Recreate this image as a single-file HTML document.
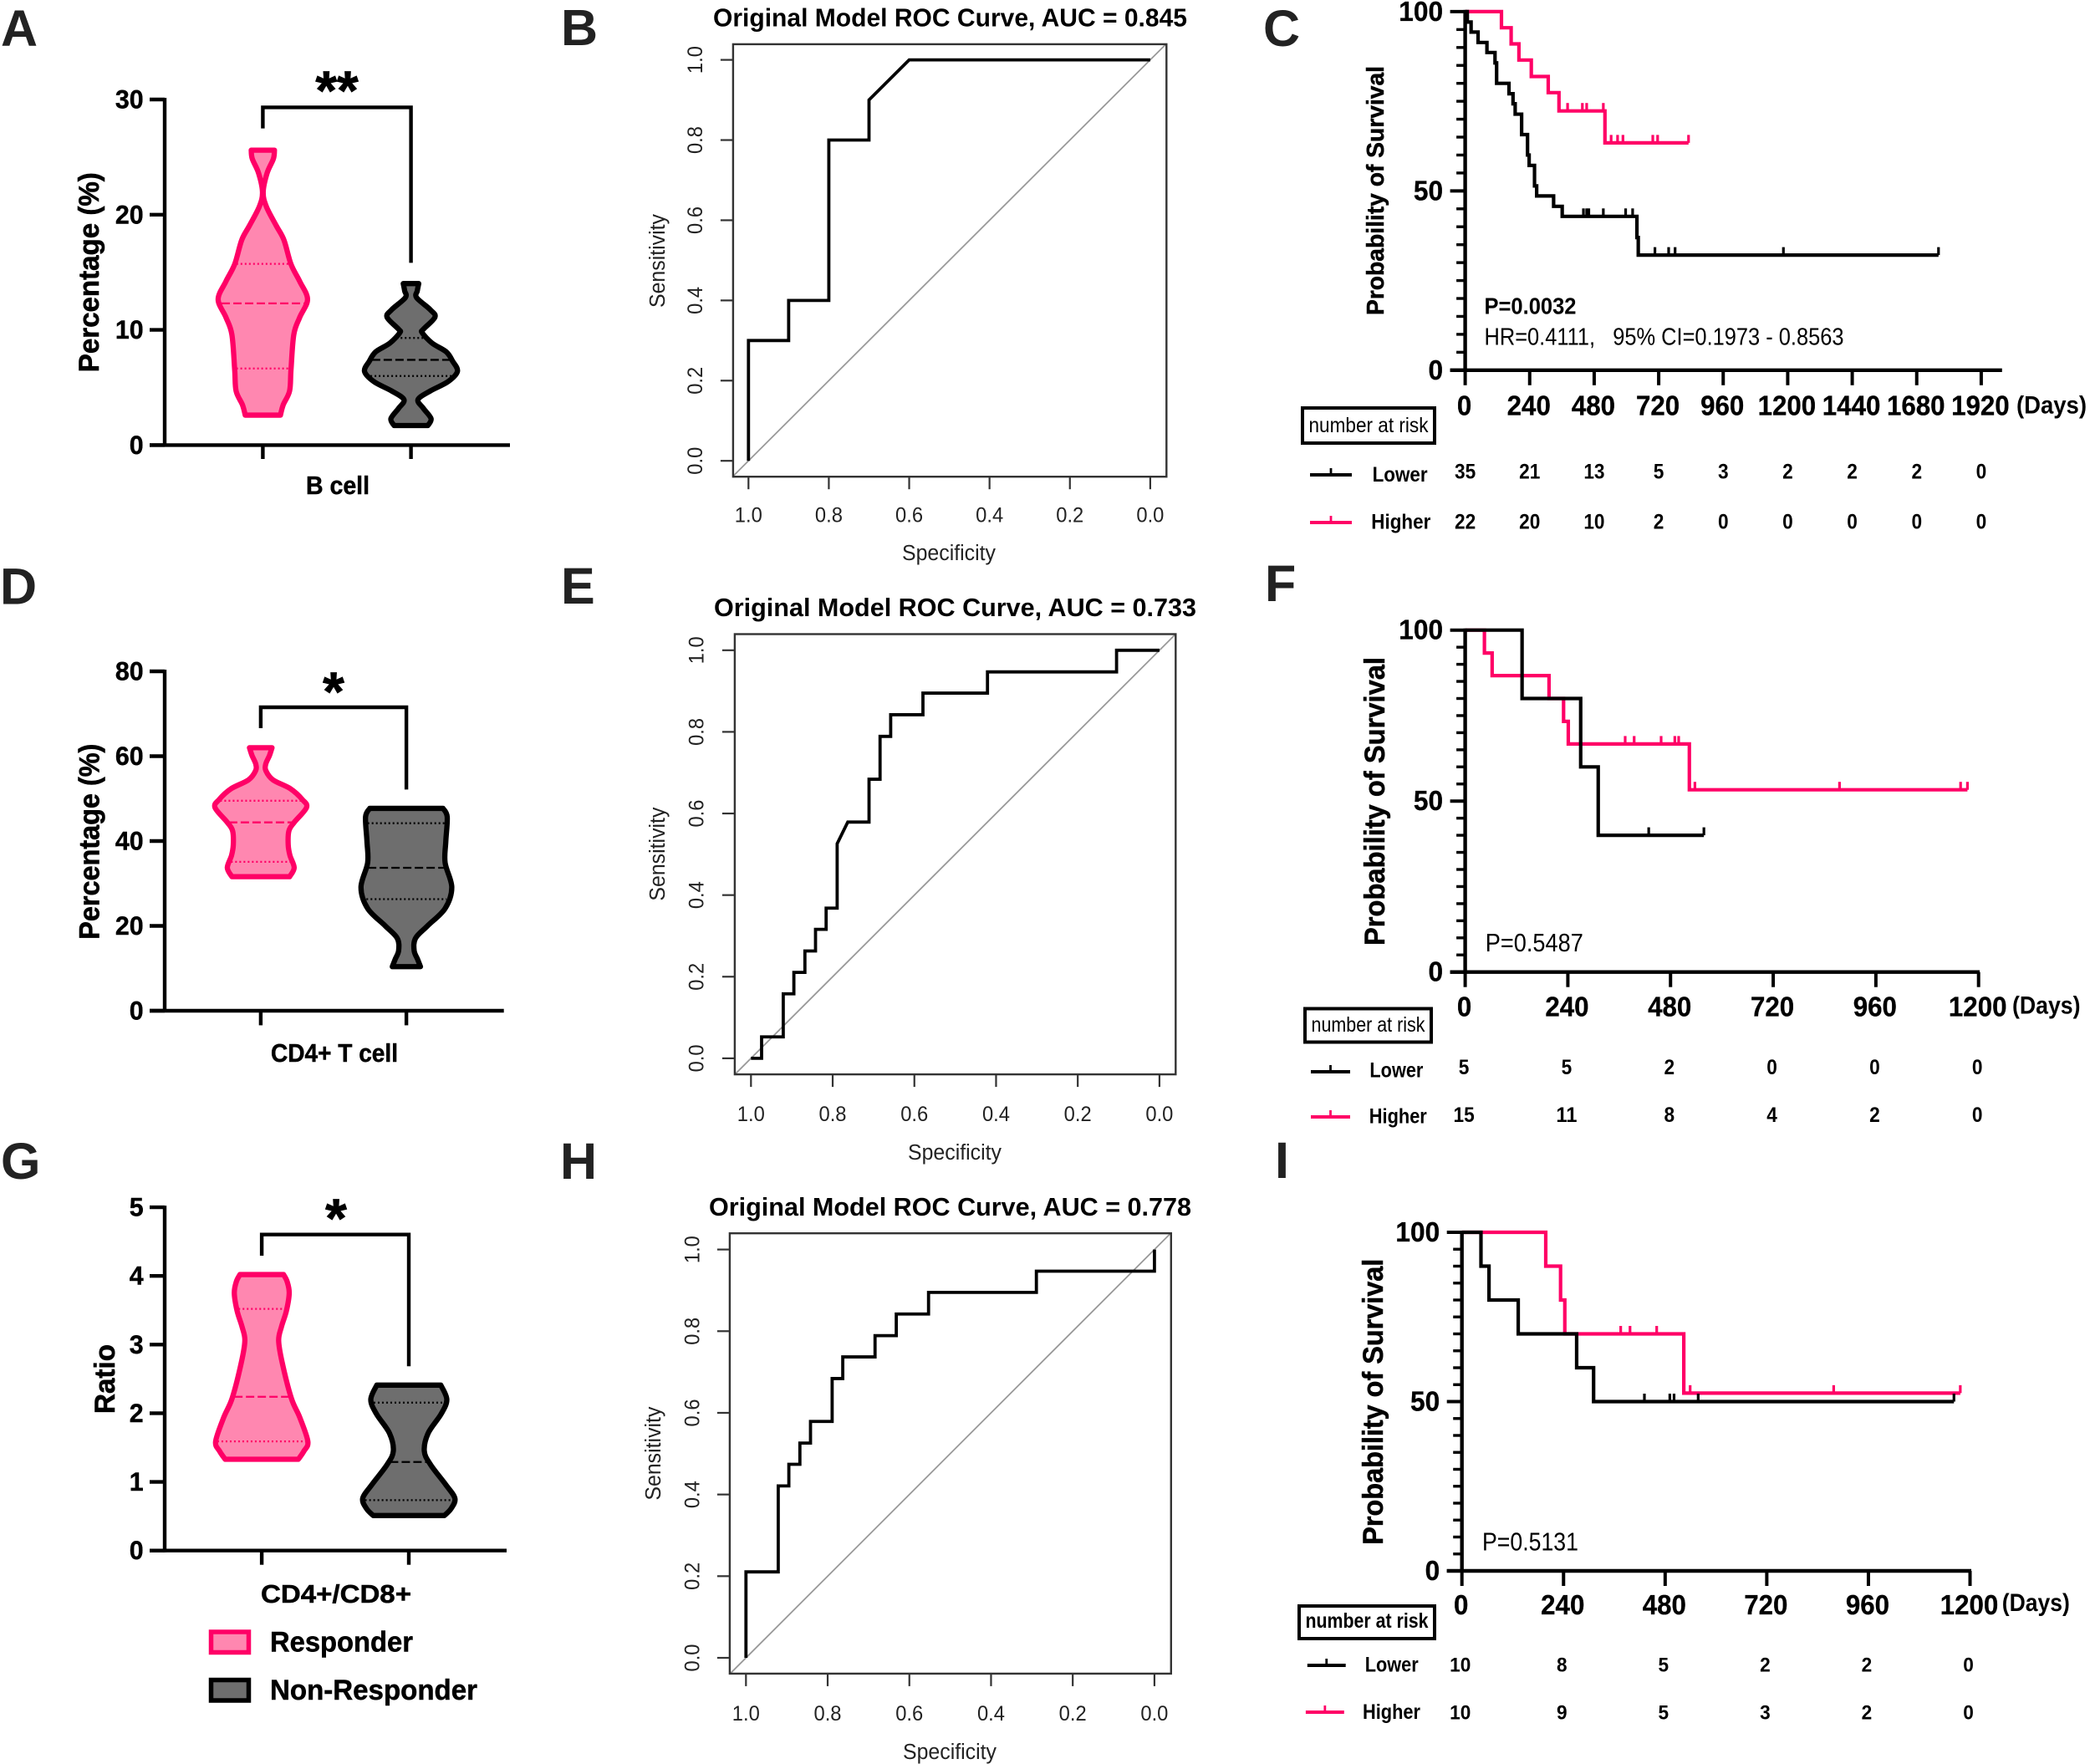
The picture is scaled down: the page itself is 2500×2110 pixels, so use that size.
<!DOCTYPE html>
<html lang="en">
<head>
<meta charset="utf-8">
<title>Violin, ROC and survival panels</title>
<style>
html,body{margin:0;padding:0;background:#fff}
svg{display:block}
text{font-family:"Liberation Sans",Arial,sans-serif}
</style>
</head>
<body>
<svg id="figure" xmlns="http://www.w3.org/2000/svg" width="2500" height="2110" viewBox="0 0 2500 2110">
<rect x="0" y="0" width="2500" height="2110" fill="#fff"/>
<g font-size="61" font-weight="bold" fill="#222">
<text x="1" y="55">A</text>
<text x="671" y="54">B</text>
<text x="1511" y="55">C</text>
<text x="0" y="722.6">D</text>
<text x="671" y="722">E</text>
<text x="1513" y="719">F</text>
<text x="1" y="1410">G</text>
<text x="670" y="1410">H</text>
<text x="1525" y="1409">I</text>
</g>
<g id="panel-a"></g>
<g id="panel-b"></g>
<g id="panel-c"></g>
<g id="panel-d"></g>
<g id="panel-e"></g>
<g id="panel-f"></g>
<g id="panel-g"></g>
<g id="panel-h"></g>
<g id="panel-i"></g>
<g>
<rect x="252.5" y="1952" width="45" height="24.5" fill="#ff87b0" stroke="#ff0066" stroke-width="5.5"/>
<text x="323" y="1975.5" font-size="34" font-weight="bold" fill="#000" stroke="#000" stroke-width="0.5" textLength="171" lengthAdjust="spacingAndGlyphs">Responder</text>
<rect x="252.5" y="2009.5" width="45" height="24.5" fill="#6e6e6e" stroke="#000" stroke-width="5.5"/>
<text x="323" y="2033" font-size="34" font-weight="bold" fill="#000" stroke="#000" stroke-width="0.5" textLength="248" lengthAdjust="spacingAndGlyphs">Non-Responder</text>
</g>
</svg>
<script>
/* ---------- Panel A data ---------- */
const aYTicks = [0, 10, 20, 30];
const aResponderValues = [25.6, 24.85, 23.6, 21.95, 20.7, 19.05, 17.8, 15.7, 14.2, 12.65, 11.1, 9.6, 6.55, 4.7, 3.5, 2.6];
const aResponderDensity = [33, 30, 12, 1, 10, 38, 60, 80, 105, 127, 105, 88, 80, 76, 58, 50];
const aResponderQuartiles = [6.65, 12.3, 15.73];
const aNonResponderValues = [14.02, 13.4, 12.8, 11.75, 11.1, 10.05, 9.75, 8.85, 8.1, 7.3, 6.4, 5.5, 4.7, 3.95, 3.2, 2.3, 1.7];
const aNonResponderDensity = [22, 18, 16, 55, 68, 35, 32, 60, 100, 118, 132, 105, 55, 20, 35, 57, 48];
const aNonResponderQuartiles = [6.0, 7.4, 9.3];

/* ---------- Panel D data ---------- */
const dYTicks = [0, 20, 40, 60, 80];
const dResponderValues = [62.0, 60.2, 58.1, 56.5, 54.4, 52.3, 49.8, 47.9, 44.4, 42.4, 39.1, 36.6, 33.7, 31.6];
const dResponderDensity = [32, 25, 14, 15, 35, 85, 118, 130, 95, 80, 78, 83, 95, 82];
const dResponderQuartiles = [35.1, 44.4, 49.5];
const dNonResponderValues = [47.7, 45.7, 39.9, 34.9, 29.1, 24.1, 20.0, 17.1, 14.2, 12.1, 10.4];
const dNonResponderDensity = [104, 116, 112, 110, 129, 110, 60, 26, 22, 32, 40];
const dNonResponderQuartiles = [26.3, 33.7, 44.2];

/* ---------- Panel G data ---------- */
const gYTicks = [0, 1, 2, 3, 4, 5];
const gResponderValues = [4.02, 3.92, 3.75, 3.49, 3.26, 3.06, 2.74, 2.22, 1.94, 1.59, 1.45, 1.33];
const gResponderDensity = [62, 72, 78, 70, 56, 48, 58, 84, 108, 131, 120, 104];
const gResponderQuartiles = [1.59, 2.24, 3.52];
const gNonResponderValues = [2.41, 2.2, 1.99, 1.71, 1.45, 1.25, 0.96, 0.76, 0.61, 0.51];
const gNonResponderDensity = [91, 108, 92, 55, 44, 62, 105, 131, 120, 101];
const gNonResponderQuartiles = [0.735, 1.29, 2.155];

/* ---------- ROC data ---------- */
const rocTicks = [0, 0.2, 0.4, 0.6, 0.8, 1];
const rocTickLabels = ['0.0', '0.2', '0.4', '0.6', '0.8', '1.0'];
const bSpecificity = [1, 1, 0.9, 0.9, 0.8, 0.8, 0.7, 0.7, 0.6, 0];
const bSensitivity = [0, 0.3, 0.3, 0.4, 0.4, 0.8, 0.8, 0.9, 1, 1];
const eSpecificity = [1, 0.974, 0.974, 0.921, 0.921, 0.895, 0.895, 0.868, 0.868, 0.842, 0.842, 0.816, 0.816, 0.789, 0.789, 0.763, 0.711, 0.711, 0.684, 0.684, 0.658, 0.658, 0.579, 0.579, 0.421, 0.421, 0.105, 0.105, 0];
const eSensitivity = [0, 0, 0.0526, 0.0526, 0.158, 0.158, 0.2105, 0.2105, 0.263, 0.263, 0.316, 0.316, 0.368, 0.368, 0.526, 0.579, 0.579, 0.684, 0.684, 0.789, 0.789, 0.842, 0.842, 0.895, 0.895, 0.947, 0.947, 1, 1];
const hSpecificity = [1, 1, 0.921, 0.921, 0.895, 0.895, 0.868, 0.868, 0.842, 0.842, 0.789, 0.789, 0.763, 0.763, 0.684, 0.684, 0.632, 0.632, 0.553, 0.553, 0.289, 0.289, 0, 0];
const hSensitivity = [0, 0.2105, 0.2105, 0.421, 0.421, 0.474, 0.474, 0.526, 0.526, 0.579, 0.579, 0.684, 0.684, 0.737, 0.737, 0.789, 0.789, 0.842, 0.842, 0.895, 0.895, 0.947, 0.947, 1];

/* ---------- Survival shared ticks ---------- */
const kmYMajorTicks = [0, 50, 100];
const kmYMinorTicks = [5, 10, 15, 20, 25, 30, 35, 40, 45, 55, 60, 65, 70, 75, 80, 85, 90, 95];

/* ---------- Panel C data ---------- */
const cXTicks = [0, 240, 480, 720, 960, 1200, 1440, 1680, 1920];
const cLowerDays = [0, 8, 22, 48, 81, 111, 117, 163, 178, 186, 210, 232, 238, 258, 266, 329, 361, 639, 644];
const cLowerSurvival = [100, 97.1, 94.3, 91.4, 88.6, 85.7, 80, 77.1, 74.3, 71.4, 65.7, 60, 57.1, 51.4, 48.6, 45.7, 42.9, 37, 32.1];
const cLowerCensors = [440, 452, 460, 514, 597, 623, 706, 757, 781, 1184, 1761];
const cHigherDays = [0, 135, 171, 200, 246, 309, 349, 520];
const cHigherSurvival = [100, 95.5, 91, 86.5, 81.9, 77.4, 72.3, 63.4];
const cHigherCensors = [381, 436, 452, 514, 543, 567, 587, 698, 716, 831];
const cLowerRisk = [35, 21, 13, 5, 3, 2, 2, 2, 0];
const cHigherRisk = [22, 20, 10, 2, 0, 0, 0, 0, 0];

/* ---------- Panel F data ---------- */
const fXTicks = [0, 240, 480, 720, 960, 1200];
const fLowerDays = [0, 133, 270, 311];
const fLowerSurvival = [100, 80, 60, 40];
const fLowerCensors = [429, 558];
const fHigherDays = [0, 45, 63, 196, 230, 241, 524];
const fHigherSurvival = [100, 93.3, 86.7, 80, 73.3, 66.7, 53.3];
const fHigherCensors = [374, 395, 458, 490, 499, 537, 875, 1158, 1174];
const fLowerRisk = [5, 5, 2, 0, 0, 0];
const fHigherRisk = [15, 11, 8, 4, 2, 0];

/* ---------- Panel I data ---------- */
const iXTicks = [0, 240, 480, 720, 960, 1200];
const iLowerDays = [0, 45, 64, 133, 271, 311];
const iLowerSurvival = [100, 90, 80, 70, 60, 50];
const iLowerCensors = [431, 491, 501, 558, 1162];
const iHigherDays = [0, 198, 233, 243, 524];
const iHigherSurvival = [100, 90, 80, 70, 52.5];
const iHigherCensors = [375, 397, 460, 539, 878, 1177];
const iLowerRisk = [10, 8, 5, 2, 2, 0];
const iHigherRisk = [10, 9, 5, 3, 2, 0];

/* ---------- Helpers ---------- */
const SVG_NS = 'http://www.w3.org/2000/svg';
const PINK = '#ff0066';
const PINK_FILL = '#ff87b0';
const GRAY_FILL = '#6e6e6e';
const linear = (d0, d1, r0, r1) => v => r0 + (v - d0) * (r1 - r0) / (d1 - d0);

function mk(parent, tag, name, attrs) {
  const el = document.createElementNS(SVG_NS, tag);
  
  
  for (const k in attrs) el.setAttribute(k, attrs[k]);
  parent.appendChild(el);
  return el;
}
function line(parent, name, x1, y1, x2, y2, color, width) {
  return mk(parent, 'line', name, { x1, y1, x2, y2, stroke: color, 'stroke-width': width });
}
function label(parent, name, str, x, y, size, o) {
  o = o || {};
  const a = { x, y, 'font-size': size, 'font-weight': o.weight || 'normal', fill: o.fill || '#000', 'text-anchor': o.anchor || 'start' };
  if (o.len) { a.textLength = o.len; a.lengthAdjust = 'spacingAndGlyphs'; }
  if (o.rotate) a.transform = 'rotate(-90 ' + x + ' ' + y + ')';
  if (o.heavy) { a.stroke = o.fill || '#000'; a['stroke-width'] = o.heavy; }
  const el = mk(parent, 'text', name, a);
  el.textContent = str;
  return el;
}
function smooth(pts) {
  let d = '';
  for (let i = 0; i < pts.length - 1; i++) {
    const p0 = pts[i - 1] || pts[i], p1 = pts[i], p2 = pts[i + 1], p3 = pts[i + 2] || p2;
    const c1x = p1[0] + (p2[0] - p0[0]) / 6, c1y = p1[1] + (p2[1] - p0[1]) / 6;
    const c2x = p2[0] - (p3[0] - p1[0]) / 6, c2y = p2[1] - (p3[1] - p1[1]) / 6;
    d += ' C' + c1x.toFixed(2) + ' ' + c1y.toFixed(2) + ' ' + c2x.toFixed(2) + ' ' + c2y.toFixed(2) + ' ' + p2[0].toFixed(2) + ' ' + p2[1].toFixed(2);
  }
  return d;
}

/* ---------- Violin ---------- */
const densityToPx = d => d * 0.421;
function densityAt(values, density, v) {
  for (let i = 0; i < values.length - 1; i++) {
    if (v <= values[i] && v >= values[i + 1]) {
      const t = (values[i] - v) / (values[i] - values[i + 1]);
      return density[i] + t * (density[i + 1] - density[i]);
    }
  }
  return 0;
}
function drawViolin(g, yS, cx, values, density, quartiles, stroke, fill, name) {
  const right = values.map((v, i) => [cx + densityToPx(density[i]), yS(v)]);
  const left = values.map((v, i) => [cx - densityToPx(density[i]), yS(v)]).reverse();
  const d = 'M' + right[0][0] + ' ' + right[0][1] + smooth(right) + ' L' + left[0][0] + ' ' + left[0][1] + smooth(left) + ' Z';
  mk(g, 'path', name + '-violin', { d, fill, stroke, 'stroke-width': 6.3, 'stroke-linejoin': 'round' });
  quartiles.forEach((q, i) => {
    const hw = densityToPx(densityAt(values, density, q));
    const l = line(g, name + (i === 1 ? '-median-line' : '-quartile-line'), cx - hw + 2, yS(q), cx + hw - 2, yS(q), stroke, 2.3);
    l.setAttribute('stroke-dasharray', i === 1 ? '10 4' : '2 3');
  });
}
function drawViolinPanel(g, L, ticks, R, N) {
  const yS = linear(ticks[0], ticks[ticks.length - 1], L.y0, L.yTop);
  drawViolin(g, yS, L.cxR, R.values, R.density, R.quartiles, PINK, PINK_FILL, 'responder');
  drawViolin(g, yS, L.cxN, N.values, N.density, N.quartiles, '#000', GRAY_FILL, 'non-responder');
  line(g, 'y-axis', L.axisX, L.yTop - 2, L.axisX, L.y0 + 2, '#000', 4.4);
  line(g, 'x-axis', L.tickLeft, L.y0, L.xEnd, L.y0, '#000', 4.4);
  ticks.forEach(t => {
    line(g, 'y-tick', L.tickLeft, yS(t), L.axisX, yS(t), '#000', 4.4);
    label(g, 'y-tick-label', String(t), 171.7, yS(t) + 10.5, 31.5, { weight: 'bold', anchor: 'end', len: String(t).length * 16.9, heavy: 0.4 });
  });
  [L.cxR, L.cxN].forEach(x => line(g, 'x-tick', x, L.y0, x, L.tickBottom, '#000', 4.4));
  mk(g, 'path', 'significance-bracket', { d: 'M' + L.cxR + ' ' + L.brLeft + ' V' + L.brTop + ' H' + L.cxN + ' V' + L.brRight, fill: 'none', stroke: '#000', 'stroke-width': 4.4 });
  label(g, 'significance-stars', L.stars, L.starX, L.starY, 66, { weight: 'bold', anchor: 'middle', heavy: 0.8 });
  label(g, 'x-axis-title', L.xTitle, L.xTitleX, L.xTitleY, 30.5, { weight: 'bold', anchor: 'middle', len: L.xTitleLen, heavy: 0.5 });
  label(g, 'y-axis-title', L.yTitle, L.yTitleX, L.yTitleY, 34, { weight: 'bold', anchor: 'middle', rotate: true, len: L.yTitleLen, heavy: 0.6 });
}

/* ---------- ROC ---------- */
function drawRoc(g, L, spec, sens, title, clipId) {
  const xS = linear(1, 0, L.x10, L.x00);
  const yS = linear(0, 1, L.y00, L.y10);
  const clip = mk(g, 'clipPath', 'roc-clip', { id: clipId });
  mk(clip, 'rect', 'roc-clip-rect', { x: L.left, y: L.top, width: L.right - L.left, height: L.bottom - L.top });
  const sL = 1 + (L.x10 - L.left) / (L.x00 - L.x10), sR = -(L.right - L.x00) / (L.x00 - L.x10);
  const diag = line(g, 'reference-diagonal', xS(sL), yS(1 - sL), xS(sR), yS(1 - sR), '#999', 1.8);
  diag.setAttribute('clip-path', 'url(#' + clipId + ')');
  mk(g, 'rect', 'plot-box', { x: L.left, y: L.top, width: L.right - L.left, height: L.bottom - L.top, fill: 'none', stroke: '#333', 'stroke-width': 2.4 });
  rocTicks.forEach((t, i) => {
    line(g, 'x-tick', xS(t), L.bottom, xS(t), L.bottom + 15, '#333', 2.2);
    label(g, 'x-tick-label', rocTickLabels[i], xS(t), L.xLabelY, 25, { anchor: 'middle', fill: '#222', len: 33 });
    line(g, 'y-tick', L.left, yS(t), L.left - 15, yS(t), '#333', 2.2);
    label(g, 'y-tick-label', rocTickLabels[i], L.yLabelX, yS(t), 25, { anchor: 'middle', rotate: true, fill: '#222', len: 33 });
  });
  const d = spec.map((s, i) => (i ? 'L' : 'M') + xS(s).toFixed(2) + ' ' + yS(sens[i]).toFixed(2)).join(' ');
  mk(g, 'path', 'roc-curve', { d, fill: 'none', stroke: '#000', 'stroke-width': 3.8, 'stroke-linejoin': 'miter' });
  label(g, 'chart-title', title, L.titleX, L.titleY, 30.5, { weight: 'bold', len: L.titleLen });
  label(g, 'x-axis-title', 'Specificity', L.xTitleX, L.xTitleY, 25.5, { anchor: 'middle', fill: '#222', len: 112 });
  label(g, 'y-axis-title', 'Sensitivity', L.yTitleX, L.yTitleY, 25.5, { anchor: 'middle', rotate: true, fill: '#222', len: 112 });
}

/* ---------- Kaplan-Meier ---------- */
function survivalAt(days, surv, d) {
  let s = surv[0];
  for (let i = 0; i < days.length; i++) if (days[i] <= d) s = surv[i];
  return s;
}
function drawCurve(g, xS, yS, days, surv, censors, color, name) {
  const end = Math.max.apply(null, censors);
  let d = 'M' + xS(days[0]) + ' ' + yS(surv[0]);
  for (let i = 1; i < days.length; i++) d += ' H' + xS(days[i]).toFixed(2) + ' V' + yS(surv[i]).toFixed(2);
  d += ' H' + xS(end).toFixed(2);
  mk(g, 'path', name + '-survival-curve', { d, fill: 'none', stroke: color, 'stroke-width': 4.2, 'stroke-linejoin': 'miter' });
  censors.forEach(c => {
    const y = yS(survivalAt(days, surv, c));
    line(g, name + '-censor-mark', xS(c), y, xS(c), y - 9.5, color, 3.2);
  });
}
function drawKm(g, L, xTicks, lower, higher, riskLower, riskHigher) {
  const xS = linear(xTicks[0], xTicks[xTicks.length - 1], L.x0, L.xLast);
  const yS = linear(0, 100, L.y0, L.y100);
  drawCurve(g, xS, yS, higher.days, higher.surv, higher.censors, PINK, 'higher');
  drawCurve(g, xS, yS, lower.days, lower.surv, lower.censors, '#000', 'lower');
  line(g, 'y-axis', L.x0, L.y100 - 2, L.x0, L.y0 + 2, '#000', 4.4);
  line(g, 'x-axis', L.x0 - 18, L.y0, L.xEnd, L.y0, '#000', 4.4);
  kmYMinorTicks.forEach(t => line(g, 'y-minor-tick', L.x0 - 10.5, yS(t), L.x0, yS(t), '#000', 3.4));
  kmYMajorTicks.forEach(t => {
    line(g, 'y-tick', L.x0 - 18, yS(t), L.x0, yS(t), '#000', 4);
    label(g, 'y-tick-label', String(t), L.x0 - 26.5, yS(t) + 11, 33.5, { weight: 'bold', anchor: 'end', len: String(t).length * 17.6, heavy: 0.3 });
  });
  xTicks.forEach(t => {
    line(g, 'x-tick', xS(t), L.y0, xS(t), L.y0 + 18, '#000', 4);
    label(g, 'x-tick-label', String(t), xS(t) - 1, L.xLabelY, 33.5, { weight: 'bold', anchor: 'middle', len: String(t).length * 17.4, heavy: 0.3 });
  });
  label(g, 'x-axis-unit', '(Days)', L.daysX, L.daysY, 30, { weight: 'bold', len: L.daysLen });
  label(g, 'y-axis-title', 'Probability of Survival', L.titleX, L.titleY, L.titleSize, { weight: 'bold', anchor: 'middle', rotate: true, len: L.titleLen, heavy: 0.5 });
  L.notes.forEach(n => label(g, n.name, n.text, L.noteX, n.y, n.size, { weight: n.weight, len: n.len }));
  mk(g, 'rect', 'risk-table-box', { x: L.box[0], y: L.box[1], width: L.box[2], height: L.box[3], fill: 'none', stroke: '#000', 'stroke-width': 4 });
  label(g, 'risk-table-title', 'number at risk', L.box[0] + L.box[2] / 2, L.boxTextY, 25, { anchor: 'middle', len: L.boxTextLen, weight: L.boxTextWeight });
  const rows = [
    { name: 'lower', text: 'Lower', color: '#000', risk: riskLower, R: L.rowLower },
    { name: 'higher', text: 'Higher', color: PINK, risk: riskHigher, R: L.rowHigher }
  ];
  rows.forEach(r => {
    line(g, r.name + '-key-line', r.R.x1, r.R.y, r.R.x2, r.R.y, r.color, 4);
    line(g, r.name + '-key-tick', (r.R.x1 + r.R.x2) / 2, r.R.y, (r.R.x1 + r.R.x2) / 2, r.R.y - 8, r.color, 2.8);
    label(g, r.name + '-key-label', r.text, r.R.tx, r.R.ty, 25, { weight: 'bold', len: r.R.len });
    r.risk.forEach((n, i) => label(g, r.name + '-risk-count', String(n), xS(xTicks[i]) + L.riskOffset, r.R.ny, L.riskSize, { weight: 'bold', anchor: 'middle', len: String(n).length * 12.6 }));
  });
}

/* ---------- Render panels ---------- */
drawViolinPanel(document.getElementById('panel-a'),
  { axisX: 197, tickLeft: 179, xEnd: 610, y0: 532.4, yTop: 119, cxR: 314.4, cxN: 491.6, tickBottom: 549, brTop: 128.4, brLeft: 153.6, brRight: 314.4,
    stars: '**', starX: 403, starY: 131, xTitle: 'B cell', xTitleX: 404, xTitleY: 591, xTitleLen: 76, yTitle: 'Percentage (%)', yTitleX: 118, yTitleY: 325.7, yTitleLen: 239 },
  aYTicks,
  { values: aResponderValues, density: aResponderDensity, quartiles: aResponderQuartiles },
  { values: aNonResponderValues, density: aNonResponderDensity, quartiles: aNonResponderQuartiles });

drawViolinPanel(document.getElementById('panel-d'),
  { axisX: 197, tickLeft: 179, xEnd: 602.7, y0: 1209, yTop: 803, cxR: 311.9, cxN: 486.1, tickBottom: 1226.4, brTop: 846, brLeft: 871, brRight: 944.4,
    stars: '*', starX: 399, starY: 850, xTitle: 'CD4+ T cell', xTitleX: 400, xTitleY: 1269.8, xTitleLen: 152, yTitle: 'Percentage (%)', yTitleX: 118.7, yTitleY: 1006.7, yTitleLen: 234 },
  dYTicks,
  { values: dResponderValues, density: dResponderDensity, quartiles: dResponderQuartiles },
  { values: dNonResponderValues, density: dNonResponderDensity, quartiles: dNonResponderQuartiles });

drawViolinPanel(document.getElementById('panel-g'),
  { axisX: 197, tickLeft: 179, xEnd: 606, y0: 1854.7, yTop: 1444.1, cxR: 313.1, cxN: 489, tickBottom: 1871.7, brTop: 1476.7, brLeft: 1502, brRight: 1634.3,
    stars: '*', starX: 402, starY: 1480, xTitle: 'CD4+/CD8+', xTitleX: 402, xTitleY: 1917, xTitleLen: 180, yTitle: 'Ratio', yTitleX: 136.8, yTitleY: 1649.5, yTitleLen: 83 },
  gYTicks,
  { values: gResponderValues, density: gResponderDensity, quartiles: gResponderQuartiles },
  { values: gNonResponderValues, density: gNonResponderDensity, quartiles: gNonResponderQuartiles });

drawRoc(document.getElementById('panel-b'),
  { left: 876.9, right: 1395.3, top: 52.9, bottom: 570.2, x10: 895.3, x00: 1375.9, y00: 551.2, y10: 71.6, xLabelY: 624.5, yLabelX: 840,
    titleX: 853, titleY: 31.7, titleLen: 567, xTitleX: 1135, xTitleY: 670, yTitleX: 795, yTitleY: 312 },
  bSpecificity, bSensitivity, 'Original Model ROC Curve, AUC = 0.845', 'roc-clip-b');

drawRoc(document.getElementById('panel-e'),
  { left: 878.9, right: 1406.3, top: 758.5, bottom: 1285.1, x10: 898.3, x00: 1386.9, y00: 1265.9, y10: 777.8, xLabelY: 1341, yLabelX: 841.6,
    titleX: 854, titleY: 737, titleLen: 577, xTitleX: 1142, xTitleY: 1387, yTitleX: 795, yTitleY: 1021.6 },
  eSpecificity, eSensitivity, 'Original Model ROC Curve, AUC = 0.733', 'roc-clip-e');

drawRoc(document.getElementById('panel-h'),
  { left: 872.9, right: 1400.8, top: 1475.2, bottom: 2001.9, x10: 892.3, x00: 1380.9, y00: 1983, y10: 1494.6, xLabelY: 2058, yLabelX: 836.6,
    titleX: 848, titleY: 1454, titleLen: 577, xTitleX: 1136, xTitleY: 2104, yTitleX: 790, yTitleY: 1738.6 },
  hSpecificity, hSensitivity, 'Original Model ROC Curve, AUC = 0.778', 'roc-clip-h');

drawKm(document.getElementById('panel-c'),
  { x0: 1752.6, xLast: 2369.9, xEnd: 2394.8, y0: 442.8, y100: 13.9, xLabelY: 496.6, daysX: 2412, daysY: 494.5, daysLen: 84,
    titleX: 1655, titleY: 228, titleLen: 298, titleSize: 29, noteX: 1775.5,
    notes: [
      { name: 'p-value', text: 'P=0.0032', y: 375.4, size: 28, weight: 'bold', len: 110 },
      { name: 'hazard-ratio', text: 'HR=0.4111,\u00a0\u00a0\u00a095% CI=0.1973 - 0.8563', y: 412.5, size: 28.5, weight: 'normal', len: 430 }
    ],
    box: [1558, 488, 158, 42], boxTextY: 516.8, boxTextLen: 143, boxTextWeight: 'normal', riskOffset: 0, riskSize: 25,
    rowLower: { x1: 1567, x2: 1617, y: 568, tx: 1641.6, ty: 575.8, len: 66, ny: 572.4 },
    rowHigher: { x1: 1567, x2: 1617, y: 625, tx: 1640.3, ty: 632.6, len: 71, ny: 632.6 } },
  cXTicks,
  { days: cLowerDays, surv: cLowerSurvival, censors: cLowerCensors },
  { days: cHigherDays, surv: cHigherSurvival, censors: cHigherCensors },
  cLowerRisk, cHigherRisk);

drawKm(document.getElementById('panel-f'),
  { x0: 1752.6, xLast: 2366.7, xEnd: 2368, y0: 1162.7, y100: 753.7, xLabelY: 1215.6, daysX: 2407, daysY: 1212.5, daysLen: 81.5,
    titleX: 1656, titleY: 958.5, titleLen: 345, titleSize: 34, noteX: 1776.8,
    notes: [ { name: 'p-value', text: 'P=0.5487', y: 1138, size: 31, weight: 'normal', len: 117 } ],
    box: [1561, 1206.5, 151, 40], boxTextY: 1233.8, boxTextLen: 136, boxTextWeight: 'normal', riskOffset: -1.5, riskSize: 25,
    rowLower: { x1: 1568, x2: 1615, y: 1282, tx: 1638.4, ty: 1288.4, len: 64, ny: 1285 },
    rowHigher: { x1: 1568, x2: 1615, y: 1336, tx: 1637.8, ty: 1343.5, len: 69, ny: 1342 } },
  fXTicks,
  { days: fLowerDays, surv: fLowerSurvival, censors: fLowerCensors },
  { days: fHigherDays, surv: fHigherSurvival, censors: fHigherCensors },
  fLowerRisk, fHigherRisk);

drawKm(document.getElementById('panel-i'),
  { x0: 1748.7, xLast: 2356.5, xEnd: 2358, y0: 1879, y100: 1474, xLabelY: 1930.9, daysX: 2394.8, daysY: 1927, daysLen: 81,
    titleX: 1654, titleY: 1676.7, titleLen: 342, titleSize: 34, noteX: 1773,
    notes: [ { name: 'p-value', text: 'P=0.5131', y: 1854.6, size: 31, weight: 'normal', len: 115 } ],
    box: [1554, 1921, 162, 39], boxTextY: 1947, boxTextLen: 147, boxTextWeight: 'bold', riskOffset: -2, riskSize: 24,
    rowLower: { x1: 1563.8, x2: 1609.7, y: 1992, tx: 1632.7, ty: 1999.3, len: 64, ny: 1999.3 },
    rowHigher: { x1: 1561.9, x2: 1607.8, y: 2048, tx: 1630, ty: 2055.8, len: 69, ny: 2056.7 } },
  iXTicks,
  { days: iLowerDays, surv: iLowerSurvival, censors: iLowerCensors },
  { days: iHigherDays, surv: iHigherSurvival, censors: iHigherCensors },
  iLowerRisk, iHigherRisk);
</script>
</body>
</html>
